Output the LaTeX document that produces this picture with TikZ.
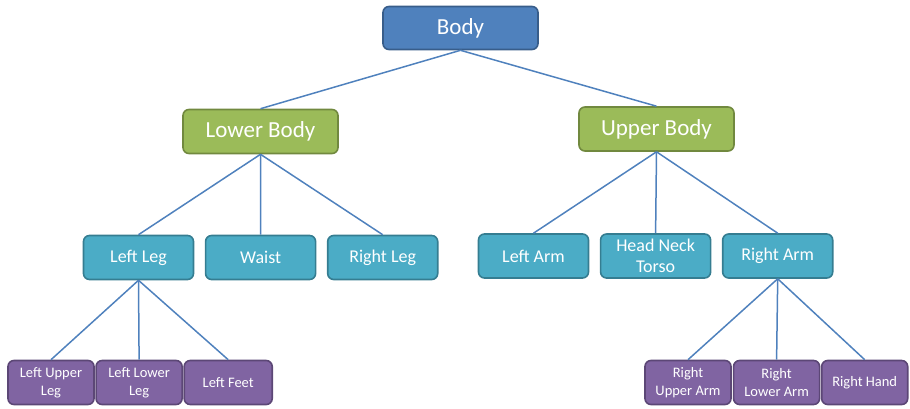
\documentclass[tikz,border=0pt]{standalone}
\usepackage{fontspec}
\setmainfont{Carlito}
\usepackage{xcolor}
\usetikzlibrary{positioning}
\definecolor{topblue}{HTML}{4F81BD}
\definecolor{topedge}{HTML}{385D8A}
\definecolor{leafgreen}{HTML}{9BBB59}
\definecolor{greenedge}{HTML}{71893F}
\definecolor{aqua}{HTML}{4BACC6}
\definecolor{aquaedge}{HTML}{357D91}
\definecolor{plum}{HTML}{8064A2}
\definecolor{plumedge}{HTML}{5C4776}
\tikzset{%
  boxlev/.style={rectangle,rounded corners=6pt,line width=1.6pt,text=white,inner sep=0pt,align=center}
}
\tikzset{%
  boxlevz/.style={boxlev,fill=topblue,draw=topedge,minimum width=155pt,minimum height=43pt,font=\fontsize{23}{27}\selectfont}
}
\tikzset{%
  boxleva/.style={boxlev,fill=leafgreen,draw=greenedge,minimum width=155pt,minimum height=44pt,font=\fontsize{23}{27}\selectfont}
}
\tikzset{%
  boxlevb/.style={boxlev,fill=aqua,draw=aquaedge,minimum width=110pt,minimum height=44pt,font=\fontsize{18}{21}\selectfont}
}
\tikzset{%
  boxlevc/.style={boxlev,fill=plum,draw=plumedge,minimum width=86pt,minimum height=44pt,font=\fontsize{14.5}{18}\selectfont}
}
\tikzset{%
  link/.style={draw=topblue,line width=1.5pt}
}

\begin{document}
\begin{tikzpicture}[x=1pt,y=-1pt,node distance=10.5pt]
        \useasboundingbox (0,0) rectangle (910,408);
        \node[boxlevz](body) at (460.5,28){Body};
        \node[boxleva](lower) at (260.5,131.5){Lower Body};
        \node[boxleva](upper) at (656.5,129){Upper Body};

        \node[boxlevb](lleg) at (138.5,257.5){Left Leg};
        \node[boxlevb,right=of lleg](waist){Waist};
        \node[boxlevb,right=of waist](rleg){Right Leg};

        \node[boxlevb](larm) at (533.5,256){Left Arm};
        \node[boxlevb,right=of larm](torso){Head Neck\\Torso};
        \node[boxlevb,right=of torso](rarm){Right Arm};

        \node[boxlevc](lupleg) at (51,382.5){Left Upper\\Leg};
        \node[boxlevc,right=0.5pt of lupleg](lloleg){Left Lower\\Leg};
        \node[boxlevc,right=0.5pt of lloleg,minimum width=88pt](lfeet){Left Feet};

        \node[boxlevc](ruparm) at (688,382.5){Right\\Upper Arm};
        \node[boxlevc,right=1pt of ruparm](rloarm){Right\\Lower Arm};
        \node[boxlevc,right=0.5pt of rloarm](rhand){Right Hand};

        \draw[link] (body.south) -- (lower.north);
        \draw[link] (body.south) -- (upper.north);
        \draw[link] (lower.south) -- (lleg.north);
        \draw[link] (lower.south) -- (waist.north);
        \draw[link] (lower.south) -- (rleg.north);
        \draw[link] (upper.south) -- (larm.north);
        \draw[link] (upper.south) -- (torso.north);
        \draw[link] (upper.south) -- (rarm.north);
        \draw[link] (lleg.south) -- (lupleg.north);
        \draw[link] (lleg.south) -- (lloleg.north);
        \draw[link] (lleg.south) -- (lfeet.north);
        \draw[link] (rarm.south) -- (ruparm.north);
        \draw[link] (rarm.south) -- (rloarm.north);
        \draw[link] (rarm.south) -- (rhand.north);
      \end{tikzpicture}
\end{document}
